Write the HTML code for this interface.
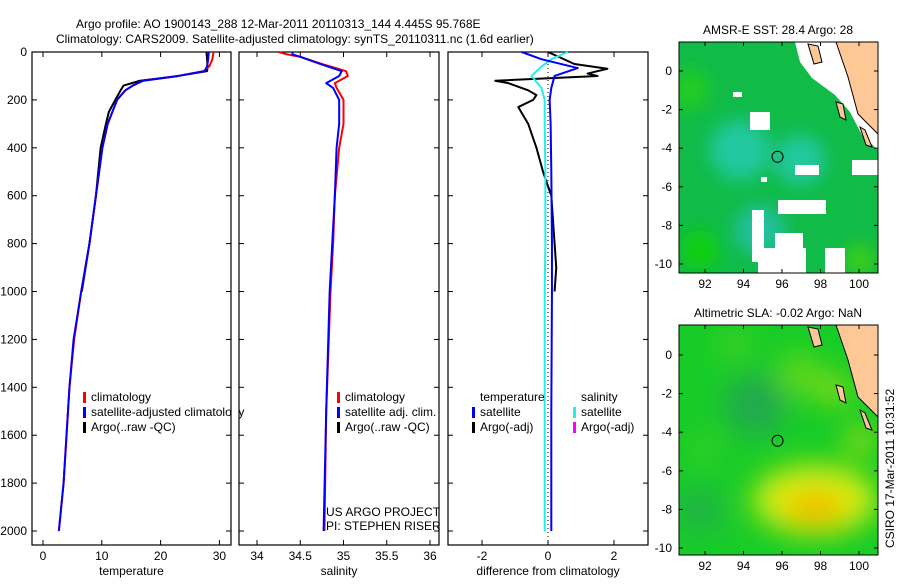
<!DOCTYPE html>
<html><head><meta charset="utf-8"><style>
body{margin:0;background:#fff;width:900px;height:580px;overflow:hidden;font-family:"Liberation Sans",sans-serif}
svg text{font-family:"Liberation Sans",sans-serif;font-size:12px;fill:#000}
</style></head><body>
<svg id="fig" width="900" height="580" viewBox="0 0 900 580" xmlns="http://www.w3.org/2000/svg">
<text x="76" y="28" font-size="13">Argo profile: AO 1900143_288 12-Mar-2011 20110313_144 4.445S 95.768E</text>
<text x="56" y="43" font-size="13">Climatology: CARS2009. Satellite-adjusted climatology: synTS_20110311.nc (1.6d earlier)</text>
<g id="g"></g>
</svg>
<script>
// ---- data ----
const depthTicks=[0,200,400,600,800,1000,1200,1400,1600,1800,2000];
const tempTicks=[0,10,20,30];
const salTicks=[34,34.5,35,35.5,36];
const diffTicks=[-2,0,2];
const lonTicks=[92,94,96,98,100];
const latTicks=[0,-2,-4,-6,-8,-10];

const tClimDepth=[0,30,60,80,100,120,140,160,200,300,400,600,800,1000,1200,1400,1600,1800,2000];
const tClim=[29,28.8,28.3,27.3,23,17,15.3,14,12.6,11,10.1,9,7.9,6.5,5.3,4.5,4,3.5,2.7];
const tSat=[28.2,28.1,27.9,27.5,23,17,15.3,14,12.6,11,10.1,9,7.9,6.5,5.2,4.5,4,3.5,2.7];
const tArgoDepth=[0,30,60,80,100,120,140,160,200,250,300,400,500,600,800,1000];
const tArgo=[27.8,27.9,28,27.9,23,16.5,13.7,13.2,12.3,11.2,10.7,9.8,9.4,9,7.9,6.6];

const sDepth=[0,10,20,50,80,100,130,150,200,300,400,600,800,1000,1500,2000];
const sClim=[34.25,34.35,34.5,34.75,35.03,35.05,34.9,34.92,35.0,35.0,34.95,34.9,34.88,34.85,34.8,34.78];
const sSat=[34.41,34.41,34.5,34.73,34.98,34.95,34.8,34.88,34.95,34.95,34.92,34.9,34.87,34.84,34.8,34.77];

const dDepth=[0,30,67,100,150,200,300,500,800,1000,1500,2000];
const dTempSat=[-0.8,-0.2,0.9,0.2,0.1,0.05,0.08,0.1,0.12,0.12,0.1,0.1];
const dSalSat=[0.6,0.1,-0.25,-0.5,-0.2,-0.1,-0.1,-0.08,-0.08,-0.1,-0.1,-0.1];
const dArgoDepth=[0,50,70,90,100,120,130,160,180,200,230,300,400,500,600,800,900,1000];
const dArgo=[0,0.8,1.8,1.2,1.5,-1.6,-1.2,-0.6,-0.35,-0.45,-0.9,-0.6,-0.35,-0.15,0.1,0.2,0.25,0.2];

// ---- helpers ----
const NS='http://www.w3.org/2000/svg';
const G=document.getElementById('g');
function mk(tag,at,parent){const e=document.createElementNS(NS,tag);for(const k in at)e.setAttribute(k,at[k]);(parent||G).appendChild(e);return e;}
const yD=d=>52+d*0.2395;
function panel(name,x0,x1,xf,ticks,lab,xlabel,showY){
  const r=mk('rect',{x:x0,y:52,width:x1-x0,height:493,fill:'none',stroke:'#000','stroke-width':1.2});
  
  
  depthTicks.forEach(d=>{const y=yD(d);
    mk('line',{x1:x0,x2:x0+5,y1:y,y2:y,stroke:'#000'});mk('line',{x1:x1-5,x2:x1,y1:y,y2:y,stroke:'#000'});
    if(showY){const t=mk('text',{x:x0-5,y:y+4,'text-anchor':'end'});t.textContent=d;
      
      }
  });
  ticks.forEach((v,i)=>{const x=xf(v);
    mk('line',{x1:x,x2:x,y1:545,y2:540,stroke:'#000'});mk('line',{x1:x,x2:x,y1:52,y2:57,stroke:'#000'});
    const t=mk('text',{x:x,y:560,'text-anchor':'middle'});t.textContent=lab[i];
    
    });
  const t=mk('text',{x:(x0+x1)/2,y:575,'text-anchor':'middle'});t.textContent=xlabel;
  
  
}
function line(name,depths,vals,xf,color,w,dash){
  const p=mk('polyline',{points:depths.map((d,i)=>xf(vals[i])+','+yD(d)).join(' '),fill:'none',stroke:color,'stroke-width':w||2,'stroke-linejoin':'round'});
  if(dash)p.setAttribute('stroke-dasharray',dash);
  
  
}
function legend(name,x,y,items){
  items.forEach((it,i)=>{const yy=y+i*15;
    if(it[0])mk('rect',{x:x,y:yy-9,width:3,height:11,fill:it[0]});
    const t=mk('text',{x:x+8,y:yy});t.textContent=it[1];
    
    });
}
// temp panel
const xT=v=>43+v*5.88;
panel('temperature',32,231,xT,tempTicks,tempTicks.map(String),'temperature',true);
line('argo-temperature',tArgoDepth,tArgo,xT,'#000');
line('clim-temperature',tClimDepth,tClim,xT,'#f00');
line('sat-temperature',tClimDepth,tSat,xT,'#00f');
legend('temperature-legend',83,401,[['#f00','climatology'],['#00f','satellite-adjusted climatology'],['#000','Argo(..raw -QC)']]);
mk('rect',{x:232,y:380,width:7,height:60,fill:'#fff'});
// salinity panel
const xS=v=>257+(v-34)*86.5;
panel('salinity',239,439,xS,salTicks,['34','34.5','35','35.5','36'],'salinity',false);
line('clim-salinity',sDepth,sClim,xS,'#f00');
line('sat-salinity',sDepth,sSat,xS,'#00f');
legend('salinity-legend',337,401,[['#f00','climatology'],['#00f','satellite adj. clim.'],['#000','Argo(..raw -QC)']]);
const c1=mk('text',{x:326,y:516});c1.textContent='US ARGO PROJECT';


const c2=mk('text',{x:326,y:530});c2.textContent='PI: STEPHEN RISER';


// diff panel
const xDf=v=>548+v*33;
panel('difference',448,648,xDf,diffTicks,['-2','0','2'],'difference from climatology',false);
mk('line',{x1:548,x2:548,y1:52,y2:545,stroke:'#000','stroke-dasharray':'1,3'});
line('argo-temp-difference',dArgoDepth,dArgo,xDf,'#000');
line('sat-sal-difference',dDepth,dSalSat,xDf,'#2ee',2);
line('sat-temp-difference',dDepth,dTempSat,xDf,'#00f',2);
legend('diff-temp-legend',472,401,[[null,'temperature'],['#00f','satellite'],['#000','Argo(-adj)']]);
legend('diff-sal-legend',573,401,[[null,'salinity'],['#2ee','satellite'],['#f0f','Argo(-adj)']]);

// maps
const mapPos=[{y0:42,y1:273,lat0:71,title:'AMSR-E SST: 28.4 Argo: 28',name:'sst-map'},{y0:325,y1:555,lat0:355,title:'Altimetric SLA: -0.02 Argo: NaN',name:'sla-map'}];
const defs=mk('defs',{});
defs.innerHTML='<filter id="bl"><feGaussianBlur stdDeviation="9"/></filter><filter id="bl2"><feGaussianBlur stdDeviation="14"/></filter><clipPath id="c0"><rect x="679" y="42" width="199" height="231"/></clipPath><clipPath id="c1"><rect x="679" y="325" width="199" height="230"/></clipPath>';
mapPos.forEach((m,k)=>{
  const lonX=v=>705+(v-92)*19.25, latY=v=>m.lat0-v*19.3;
  const g=mk('g',{'clip-path':'url(#c'+k+')'});
  
  
  if(k===0){
    mk('rect',{x:679,y:m.y0,width:199,height:231,fill:'#10bb48'},g);
    const b=mk('g',{filter:'url(#bl)'},g);
    [[740,150,'#20c8a0',30],[800,160,'#20c8a0',25],[760,230,'#20c0a0',25],[690,90,'#20cc20',20],[700,250,'#10d010',20],[860,260,'#40d010',15]].forEach(c=>mk('circle',{cx:c[0],cy:c[1],r:c[3],fill:c[2]},b));
    mk('polygon',{points:'795,42 878,42 878,150 862,135 850,112 835,95 812,78 800,62',fill:'#fff'},g);
    [[733,92,9,5],[750,112,20,18],[795,165,24,10],[761,177,6,5],[778,200,48,14],[752,210,12,52],[775,233,28,18],[758,248,48,25],[825,248,20,25],[852,160,26,15]].forEach(r=>mk('rect',{x:r[0],y:r[1],width:r[2],height:r[3],fill:'#fff'},g));
  } else {
    mk('rect',{x:679,y:m.y0,width:199,height:230,fill:'#18cc28'},g);
    const b=mk('g',{filter:'url(#bl2)'},g);
    [[755,405,'#20a850',30],[700,510,'#20b048',22],[800,375,'#60d818',22],[835,390,'#a8e010',14],[860,440,'#b0e010',14],[705,450,'#80d820',8],[735,345,'#50d020',14]].forEach(c=>mk('circle',{cx:c[0],cy:c[1],r:c[3],fill:c[2]},b));
    mk('ellipse',{cx:815,cy:500,rx:62,ry:35,fill:'#d8ee10'},b);
    mk('ellipse',{cx:815,cy:508,rx:30,ry:16,fill:'#f2b800'},b);
  }
  mk('polygon',{points:'836,'+m.y0+' 878,'+m.y0+' 878,'+(m.y0+92)+' 858,'+(m.y0+72)+' 848,'+(m.y0+35),fill:'#fdc896',stroke:'#000'},g);
  mk('polygon',{points:'808,'+(m.y0+2)+' 818,'+(m.y0+4)+' 822,'+(m.y0+20)+' 814,'+(m.y0+22),fill:'#fdc896',stroke:'#000'},g);
  mk('polygon',{points:'836,'+(m.y0+60)+' 843,'+(m.y0+62)+' 846,'+(m.y0+78)+' 840,'+(m.y0+75),fill:'#fdc896',stroke:'#000'},g);
  mk('polygon',{points:'860,'+(m.y0+85)+' 865,'+(m.y0+88)+' 872,'+(m.y0+105)+' 866,'+(m.y0+103),fill:'#fdc896',stroke:'#000'},g);
  const cc=mk('circle',{cx:lonX(95.768),cy:latY(-4.445),r:5.5,fill:'none',stroke:'#000'});
  
  
  mk('rect',{x:679,y:m.y0,width:199,height:m.y1-m.y0,fill:'none',stroke:'#000'});
  lonTicks.forEach(v=>{const x=lonX(v);mk('line',{x1:x,x2:x,y1:m.y1,y2:m.y1-4,stroke:'#000'});mk('line',{x1:x,x2:x,y1:m.y0,y2:m.y0+4,stroke:'#000'});
    const t=mk('text',{x:x,y:m.y1+15,'text-anchor':'middle'});t.textContent=v;
    
    });
  latTicks.forEach(v=>{const y=latY(v);mk('line',{x1:679,x2:683,y1:y,y2:y,stroke:'#000'});mk('line',{x1:874,x2:878,y1:y,y2:y,stroke:'#000'});
    const t=mk('text',{x:672,y:y+4,'text-anchor':'end'});t.textContent=v;
    
    });
  const t=mk('text',{x:778,y:m.y0-8,'text-anchor':'middle'});t.textContent=m.title;
  
  
});
const ts=mk('text',{x:0,y:0,transform:'translate(894,548) rotate(-90)'});ts.textContent='CSIRO 17-Mar-2011 10:31:52';


</script>
</body></html>
